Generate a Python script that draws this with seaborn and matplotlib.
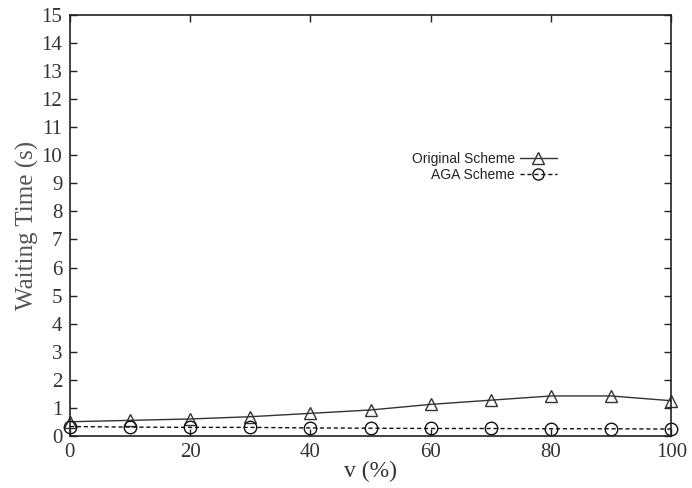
import matplotlib
matplotlib.use("Agg")
import matplotlib.pyplot as plt
import seaborn as sns
import pandas as pd
from matplotlib.lines import Line2D

v = [0, 10, 20, 30, 40, 50, 60, 70, 80, 90, 100]
original = [0.50, 0.55, 0.60, 0.68, 0.80, 0.92, 1.12, 1.27, 1.42, 1.42, 1.25]
aga = [0.33, 0.31, 0.30, 0.30, 0.28, 0.27, 0.26, 0.26, 0.25, 0.25, 0.24]
series_names = ["Original Scheme", "AGA Scheme"]

df = pd.DataFrame({
    "v": v * 2,
    "t": original + aga,
    "scheme": [series_names[0]] * len(v) + [series_names[1]] * len(v),
})

sns.set_theme(style="ticks")
plt.rcParams["font.family"] = ["Liberation Serif", "DejaVu Serif"]

fig = plt.figure(figsize=(6.92, 4.88), dpi=100)
ax = fig.add_axes([0.101, 0.107, 0.869, 0.862])

sns.lineplot(data=df, x="v", y="t", hue="scheme", style="scheme",
             palette=["#333333", "#111111"],
             dashes={series_names[0]: "", series_names[1]: (3, 2)},
             markers={series_names[0]: "^", series_names[1]: "o"},
             markersize=9, markerfacecolor="none", markeredgewidth=1.0,
             linewidth=1.0, ax=ax, legend=False)

for line in ax.get_lines():
    line.set_markerfacecolor("none")
    line.set_markeredgecolor(line.get_color())
    line.set_clip_on(False)

ax.set_xlim(0, 100)
ax.set_ylim(0, 15)
ax.set_xticks(range(0, 101, 20))
ax.set_yticks(range(0, 16))
ax.tick_params(direction="in", top=True, right=True, labelsize=15, length=5,
               width=1.0, color="#222222")
ax.tick_params(axis="y", pad=5.5)
ax.tick_params(axis="x", pad=5.5)
for s in ax.spines.values():
    s.set_visible(True)
    s.set_linewidth(1.2)
    s.set_color("#222222")
ax.set_xlabel("v (%)", fontsize=17, labelpad=-1, color="#333333")
ax.set_ylabel("Waiting Time (s)", fontsize=18, labelpad=2, color="#555555")
for lbl in ax.get_xticklabels() + ax.get_yticklabels():
    lbl.set_color("#333333")

handles = [
    Line2D([], [], color="#333333", marker="^", markersize=8, markerfacecolor="none", linewidth=1.0),
    Line2D([], [], color="#111111", marker="o", markersize=8, markerfacecolor="none", linewidth=1.0, linestyle=(0, (3, 2))),
]
leg = ax.legend(handles, series_names, loc="upper right", bbox_to_anchor=(0.83, 0.705),
                frameon=False, markerfirst=False, handlelength=2.6,
                handletextpad=0.4, labelspacing=0.15,
                prop={"family": ["Liberation Sans", "DejaVu Sans"], "size": 10})
for t in leg.get_texts():
    t.set_color("#222222")

fig.savefig("out.png", dpi=100)
